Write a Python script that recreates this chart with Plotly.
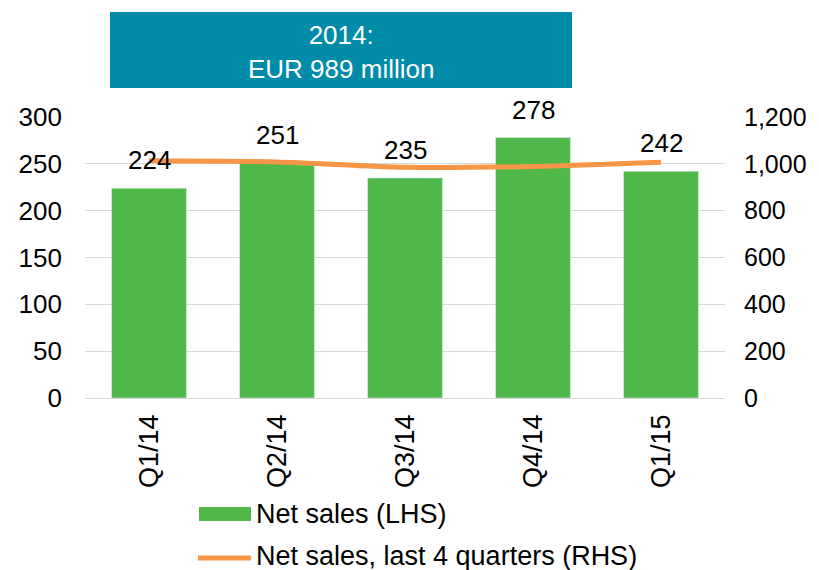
import plotly.graph_objects as go

quarters = ["Q1/14", "Q2/14", "Q3/14", "Q4/14", "Q1/15"]
net_sales = [224, 251, 235, 278, 242]
net_sales_ltm = [1013, 1008, 985, 989, 1007]
left_ticks = [0, 50, 100, 150, 200, 250, 300]
right_ticks = [0, 200, 400, 600, 800, 1000, 1200]
right_tick_labels = ["0", "200", "400", "600", "800", "1,000", "1,200"]
bar_name = "Net sales (LHS)"
line_name = "Net sales, last 4 quarters (RHS)"
box_text = "2014:<br>EUR 989 million"

GREEN = "#50B848"
ORANGE = "#F79646"
TEAL = "#008BA8"
FONT = "Liberation Sans, Arial, sans-serif"
FS = 26

OFF = 8  # page body margin
W, H = 819 - OFF, 570 - OFF
# plot area in page pixels
PL, PR, PT, PB = 85, 725, 117, 398
L, R, T, B = PL - OFF, PR - OFF, PT - OFF, PB - OFF


def px(x):
    return (x - PL) / (PR - PL)


def py(y):
    return (PB - y) / (PB - PT)


fig = go.Figure()
fig.add_trace(go.Bar(x=quarters, y=net_sales, marker_color=GREEN, width=0.585,
                     name=bar_name, showlegend=False, yaxis="y"))
fig.add_trace(go.Scatter(x=quarters, y=net_sales_ltm, mode="lines",
                         line=dict(color=ORANGE, width=5, shape="spline", smoothing=0.8),
                         name=line_name, showlegend=False, yaxis="y2"))

annotations = []
for q, v in zip(quarters, net_sales):
    annotations.append(dict(x=q, y=v, xref="x", yref="y", text=str(v), showarrow=False,
                            yanchor="bottom", yshift=11, font=dict(size=FS, color="black", family=FONT)))

annotations.append(dict(x=px(341), y=py(52), xref="paper", yref="paper", text=box_text,
                        showarrow=False, xanchor="center", yanchor="middle",
                        font=dict(size=26, color="white", family=FONT), align="center"))
annotations.append(dict(x=px(254), y=py(514), xref="paper", yref="paper", text=bar_name,
                        showarrow=False, xanchor="left", yanchor="middle",
                        font=dict(size=27, color="black", family=FONT)))
annotations.append(dict(x=px(254), y=py(556), xref="paper", yref="paper", text=line_name,
                        showarrow=False, xanchor="left", yanchor="middle",
                        font=dict(size=27, color="black", family=FONT)))

shapes = [
    dict(type="rect", xref="paper", yref="paper", x0=px(110), x1=px(572), y0=py(12), y1=py(88),
         fillcolor=TEAL, line=dict(width=0), layer="below"),
    dict(type="rect", xref="paper", yref="paper", x0=px(199), x1=px(251), y0=py(507), y1=py(521),
         fillcolor=GREEN, line=dict(width=0)),
    dict(type="line", xref="paper", yref="paper", x0=px(198), x1=px(251), y0=py(558), y1=py(558),
         line=dict(color=ORANGE, width=5)),
]

fig.update_layout(
    width=W, height=H,
    margin=dict(l=L, r=W - R, t=T, b=H - B, pad=0, autoexpand=False),
    paper_bgcolor="white", plot_bgcolor="rgba(0,0,0,0)",
    font=dict(family=FONT, size=FS, color="black"),
    showlegend=False,
    xaxis=dict(showgrid=False, tickangle=-90, showline=False, ticks="", automargin=False,
               tickfont=dict(size=27), ticklabelstandoff=10),
    yaxis=dict(range=[0, 300], tickvals=left_ticks, showgrid=True, gridcolor="#D9D9D9",
               gridwidth=1, zeroline=True, zerolinecolor="#D9D9D9", zerolinewidth=1, automargin=False,
               showline=False, ticks="", tickfont=dict(size=FS), ticklabelstandoff=22),
    yaxis2=dict(range=[0, 1200], tickvals=right_ticks, ticktext=right_tick_labels,
                overlaying="y", side="right", showgrid=False, zeroline=False, automargin=False,
                showline=False, ticks="", tickfont=dict(size=25), ticklabelstandoff=18),
    annotations=annotations,
    shapes=shapes,
)

fig.write_html("out.html")
